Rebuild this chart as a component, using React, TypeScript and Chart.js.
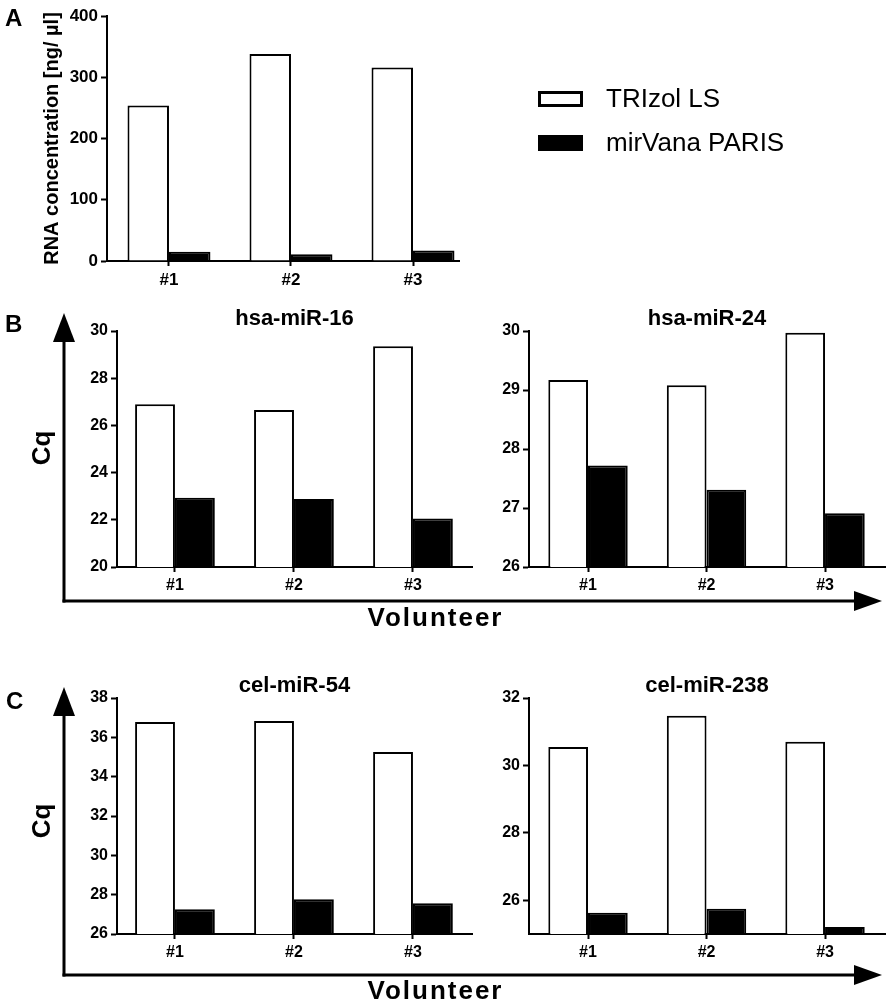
import React, { useEffect, useRef } from 'react';
import { Chart, registerables } from 'chart.js';
Chart.register(...registerables);

const FONT = '"Liberation Sans", Arial, Helvetica, sans-serif';
Chart.defaults.font.family = FONT;
Chart.defaults.color = '#000';

// categories and series
const volunteers = ['#1', '#2', '#3'];
const methods = ['TRIzol LS', 'mirVana PARIS'];

// A: RNA concentration [ng/µl]
const rnaTrizol = [254, 338, 316];
const rnaMirvana = [15, 11, 17];
const rnaTicks = [0, 100, 200, 300, 400];

// B: Cq values
const mir16Trizol = [26.9, 26.65, 29.35];
const mir16Mirvana = [22.93, 22.88, 22.05];
const mir16Ticks = [20, 22, 24, 26, 28, 30];

const mir24Trizol = [29.17, 29.08, 29.97];
const mir24Mirvana = [27.72, 27.31, 26.91];
const mir24Ticks = [26, 27, 28, 29, 30];

// C: spike-in Cq values
const mir54Trizol = [36.78, 36.83, 35.25];
const mir54Mirvana = [27.26, 27.77, 27.56];
const mir54Ticks = [26, 28, 30, 32, 34, 36, 38];

const mir238Trizol = [30.55, 31.47, 30.7];
const mir238Mirvana = [25.63, 25.75, 25.21];
const mir238Ticks = [26, 28, 30, 32];

const sideLegend = {
  id: 'sideLegend',
  afterDraw(chart: any, _args: any, opts: any) {
    const { ctx } = chart;
    ctx.save();
    chart.data.datasets.forEach((ds: any, i: number) => {
      const y = opts.top + i * opts.gap;
      ctx.fillStyle = ds.backgroundColor;
      ctx.fillRect(opts.x, y, opts.boxW, opts.boxH);
      ctx.lineWidth = 3;
      ctx.strokeStyle = ds.borderColor;
      ctx.strokeRect(opts.x, y, opts.boxW, opts.boxH);
      ctx.fillStyle = '#000';
      ctx.font = `26px ${FONT}`;
      ctx.textBaseline = 'middle';
      ctx.fillText(ds.label, opts.textX, y + opts.boxH / 2 + 1);
    });
    ctx.restore();
  },
};

interface PanelProps {
  left: number;
  top: number;
  width: number;
  height: number;
  yWidth: number;
  padTop: number;
  padRight: number;
  xMin: number;
  xMax: number;
  yMin: number;
  yMax: number;
  yTicks: number[];
  trizol: number[];
  mirvana: number[];
  catPct: number;
  tickSize: number;
  title?: string;
  yTitle?: string;
  legend?: boolean;
}

const BarPanel = (p: PanelProps) => {
  const canvasRef = useRef<HTMLCanvasElement | null>(null);

  useEffect(() => {
    if (!canvasRef.current) return;
    const tickFont = { size: p.tickSize, weight: 'bold' as const };
    const chart = new Chart(canvasRef.current, {
      type: 'bar',
      data: {
        datasets: [
          {
            label: methods[0],
            data: p.trizol.map((y, i) => ({ x: i, y })),
            backgroundColor: '#fff',
            borderColor: '#000',
            borderWidth: 2,
            categoryPercentage: p.catPct,
            barPercentage: 1,
          },
          {
            label: methods[1],
            data: p.mirvana.map((y, i) => ({ x: i, y })),
            backgroundColor: '#000',
            borderColor: '#000',
            borderWidth: 2,
            categoryPercentage: p.catPct,
            barPercentage: 1,
          },
        ],
      },
      options: {
        responsive: false,
        animation: false,
        layout: { padding: { top: p.padTop, right: p.padRight, left: 0, bottom: 0 } },
        plugins: {
          legend: { display: false },
          tooltip: { enabled: false },
          title: {
            display: !!p.title,
            text: p.title || '',
            color: '#000',
            fullSize: false,
            padding: 0,
            font: { size: 22, weight: 'bold', lineHeight: 24 / 22 },
          },
          // @ts-ignore
          sideLegend: { x: 539.5, top: 92.5, gap: 44, boxW: 42, boxH: 13, textX: 606 },
        },
        scales: {
          x: {
            type: 'linear',
            min: p.xMin,
            max: p.xMax,
            offset: false,
            afterBuildTicks: (s: any) => {
              s.ticks = volunteers.map((_, i) => ({ value: i }));
            },
            afterFit: (s: any) => {
              s.height = 40;
            },
            ticks: {
              autoSkip: false,
              maxRotation: 0,
              padding: 4,
              font: tickFont,
              color: '#000',
              callback: (_v: any, i: number) => volunteers[i],
            },
            grid: { offset: false, drawOnChartArea: false, tickLength: 5, tickWidth: 2, color: '#000' },
            border: { color: '#000', width: 2 },
          },
          y: {
            min: p.yMin,
            max: p.yMax,
            afterBuildTicks: (s: any) => {
              s.ticks = p.yTicks.map((v) => ({ value: v }));
            },
            afterFit: (s: any) => {
              s.width = p.yWidth;
            },
            ticks: { padding: 3, font: tickFont, color: '#000' },
            grid: { drawOnChartArea: false, tickLength: 6, tickWidth: 2, color: '#000' },
            border: { color: '#000', width: 2 },
            title: {
              display: !!p.yTitle,
              text: p.yTitle || '',
              color: '#000',
              padding: { top: 40, bottom: 0 },
              font: { size: 20, weight: 'bold' },
            },
          },
        },
      },
      plugins: p.legend ? [sideLegend] : [],
    } as any);
    return () => chart.destroy();
  }, []);

  return (
    <canvas
      ref={canvasRef}
      width={p.width}
      height={p.height}
      style={{ position: 'absolute', left: p.left, top: p.top, width: p.width, height: p.height }}
    />
  );
};

const Arrows = ({ tipY, lineY, cqY, volY }: { tipY: number; lineY: number; cqY: number; volY: number }) => (
  <g>
    <line x1={64} y1={lineY + 1.5} x2={64} y2={tipY + 26} stroke="#000" strokeWidth={3} />
    <polygon points={`64,${tipY} 53,${tipY + 29} 75,${tipY + 29}`} fill="#000" />
    <line x1={62.5} y1={lineY} x2={856} y2={lineY} stroke="#000" strokeWidth={3} />
    <polygon points={`882,${lineY} 854,${lineY - 10} 854,${lineY + 10}`} fill="#000" />
    <text
      x={41}
      y={cqY}
      transform={`rotate(-90 41 ${cqY})`}
      textAnchor="middle"
      dominantBaseline="central"
      fontSize={26}
      fontWeight="bold"
    >
      Cq
    </text>
    <text x={435.5} y={volY} textAnchor="middle" dominantBaseline="central" fontSize={26} fontWeight="bold" letterSpacing={2}>
      Volunteer
    </text>
  </g>
);

const App = () => {
  return (
    <div style={{ position: 'absolute', left: 0, top: 0, width: 892, height: 1007, background: '#fff' }}>
      <BarPanel
        left={0} top={0} width={892} height={301}
        yWidth={107} padTop={16} padRight={433}
        xMin={-0.508} xMax={2.377}
        yMin={0} yMax={400} yTicks={rnaTicks}
        trizol={rnaTrizol} mirvana={rnaMirvana}
        catPct={0.68} tickSize={17}
        yTitle="RNA concentration [ng/ µl]"
        legend
      />
      <BarPanel
        left={0} top={301} width={480} height={306}
        yWidth={117} padTop={6} padRight={8}
        xMin={-0.487} xMax={2.496}
        yMin={20} yMax={30} yTicks={mir16Ticks}
        trizol={mir16Trizol} mirvana={mir16Mirvana}
        catPct={0.67} tickSize={16}
        title="hsa-miR-16"
      />
      <BarPanel
        left={480} top={301} width={412} height={306}
        yWidth={49} padTop={6} padRight={7}
        xMin={-0.498} xMax={2.506}
        yMin={26} yMax={30} yTicks={mir24Ticks}
        trizol={mir24Trizol} mirvana={mir24Mirvana}
        catPct={0.67} tickSize={16}
        title="hsa-miR-24"
      />
      <BarPanel
        left={0} top={668} width={480} height={306}
        yWidth={117} padTop={6} padRight={8}
        xMin={-0.487} xMax={2.496}
        yMin={26} yMax={38} yTicks={mir54Ticks}
        trizol={mir54Trizol} mirvana={mir54Mirvana}
        catPct={0.67} tickSize={16}
        title="cel-miR-54"
      />
      <BarPanel
        left={480} top={668} width={412} height={306}
        yWidth={49} padTop={6} padRight={7}
        xMin={-0.498} xMax={2.506}
        yMin={25} yMax={32} yTicks={mir238Ticks}
        trizol={mir238Trizol} mirvana={mir238Mirvana}
        catPct={0.67} tickSize={16}
        title="cel-miR-238"
      />
      <svg
        width={892}
        height={1007}
        style={{ position: 'absolute', left: 0, top: 0, pointerEvents: 'none', fontFamily: FONT }}
      >
        <text x={5} y={17} dominantBaseline="central" fontSize={24} fontWeight="bold">A</text>
        <text x={5} y={323} dominantBaseline="central" fontSize={24} fontWeight="bold">B</text>
        <text x={6} y={700} dominantBaseline="central" fontSize={24} fontWeight="bold">C</text>
        <Arrows tipY={313} lineY={601} cqY={448} volY={617} />
        <Arrows tipY={687} lineY={975} cqY={821} volY={990} />
      </svg>
    </div>
  );
};

export default App;
